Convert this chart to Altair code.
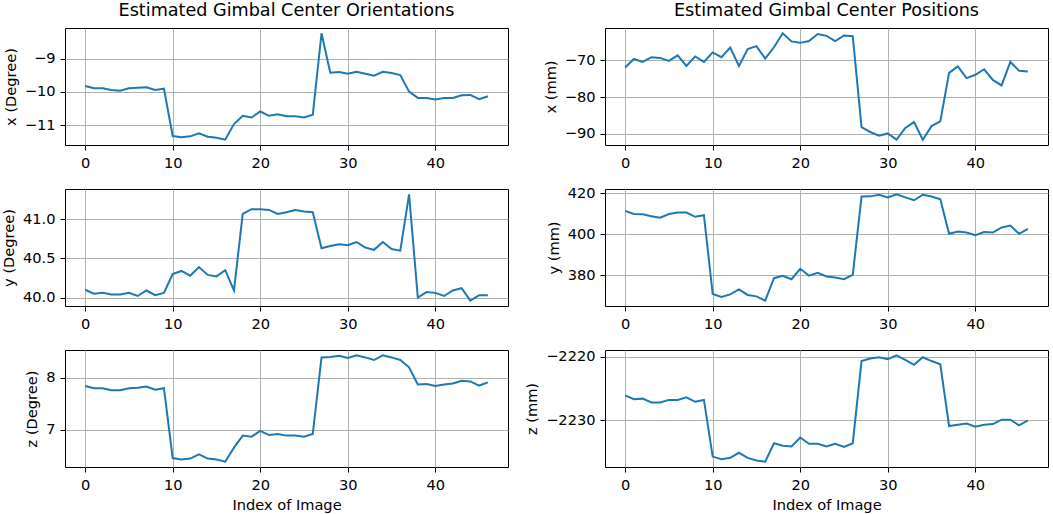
import altair as alt
import pandas as pd

index = list(range(47))

ori_x = [-9.82, -9.89, -9.89, -9.94, -9.96, -9.89, -9.87, -9.86, -9.94, -9.90,
         -11.33, -11.37, -11.34, -11.25, -11.35, -11.38, -11.44, -10.97, -10.72, -10.77,
         -10.59, -10.72, -10.67, -10.73, -10.73, -10.77, -10.69, -8.23, -9.42, -9.40,
         -9.45, -9.39, -9.45, -9.51, -9.39, -9.43, -9.49, -9.99, -10.18, -10.18,
         -10.23, -10.18, -10.18, -10.10, -10.09, -10.22, -10.13]
ori_y = [40.10, 40.05, 40.06, 40.04, 40.04, 40.06, 40.02, 40.09, 40.03, 40.06,
         40.30, 40.34, 40.28, 40.39, 40.29, 40.27, 40.35, 40.09, 41.07, 41.13,
         41.13, 41.12, 41.07, 41.09, 41.12, 41.10, 41.09, 40.63, 40.66, 40.68,
         40.67, 40.71, 40.64, 40.61, 40.71, 40.62, 40.60, 41.32, 40.00, 40.07,
         40.06, 40.02, 40.09, 40.12, 39.96, 40.03, 40.03]
ori_z = [7.84, 7.80, 7.80, 7.76, 7.76, 7.80, 7.81, 7.83, 7.77, 7.80,
         6.46, 6.43, 6.45, 6.53, 6.45, 6.43, 6.39, 6.66, 6.89, 6.87,
         6.98, 6.90, 6.92, 6.89, 6.89, 6.87, 6.92, 8.39, 8.40, 8.42,
         8.38, 8.43, 8.39, 8.34, 8.43, 8.39, 8.34, 8.20, 7.87, 7.88,
         7.84, 7.87, 7.89, 7.94, 7.93, 7.85, 7.91]
pos_x = [-71.9, -69.6, -70.4, -69.1, -69.3, -70.1, -68.6, -71.5, -68.9, -70.4,
         -67.8, -69.1, -66.5, -71.5, -66.9, -66.1, -69.5, -66.4, -62.6, -64.8,
         -65.2, -64.7, -62.8, -63.3, -64.7, -63.2, -63.4, -88.2, -89.5, -90.5,
         -89.9, -91.6, -88.4, -86.8, -91.6, -87.9, -86.6, -73.4, -71.6, -74.8,
         -73.9, -72.4, -75.3, -76.8, -70.4, -72.8, -73.0]
pos_y = [411.4, 409.9, 409.7, 408.8, 408.1, 409.9, 410.6, 410.6, 408.5, 409.3,
         370.8, 369.3, 370.6, 373.0, 370.3, 369.6, 367.5, 378.5, 379.7, 378.0,
         383.1, 379.7, 381.1, 379.3, 378.8, 378.0, 380.1, 418.4, 418.5, 419.3,
         418.0, 419.5, 418.0, 416.6, 419.3, 418.4, 417.1, 400.2, 401.3, 400.8,
         399.5, 401.1, 400.8, 403.3, 404.2, 400.2, 402.6]
pos_z = [-2226.1, -2226.7, -2226.6, -2227.2, -2227.2, -2226.8, -2226.8, -2226.4, -2227.1, -2226.8,
         -2235.7, -2236.1, -2235.9, -2235.1, -2235.9, -2236.3, -2236.5, -2233.6, -2234.0, -2234.1,
         -2232.7, -2233.7, -2233.7, -2234.1, -2233.7, -2234.2, -2233.6, -2220.7, -2220.3, -2220.1,
         -2220.4, -2219.8, -2220.5, -2221.3, -2220.1, -2220.7, -2221.2, -2230.9, -2230.7, -2230.5,
         -2231.0, -2230.7, -2230.6, -2229.9, -2229.9, -2230.8, -2230.0]

x_ticks = [0, 10, 20, 30, 40]
ticks_ori_x = [-11, -10, -9]
ticks_ori_y = [40.0, 40.5, 41.0]
ticks_ori_z = [7, 8]
ticks_pos_x = [-90, -80, -70]
ticks_pos_y = [380, 400, 420]
ticks_pos_z = [-2230, -2220]

FONT = "DejaVu Sans"
W, H = 443, 117
LABEL_SIZE = 14.6
TITLE_SIZE = 17.6


def padded(vals):
    lo, hi = min(vals), max(vals)
    m = (hi - lo) * 0.05
    return [lo - m, hi + m]


def panel(values, ylabel, yticks, yfmt, title=None, bottom=False):
    df = pd.DataFrame({"i": index, "v": values})
    xlo, xhi = padded(index)
    x_axis = alt.Axis(values=x_ticks, format="d")
    if bottom:
        xenc = alt.X("i:Q", scale=alt.Scale(domain=[xlo, xhi], nice=False, zero=False),
                     axis=x_axis, title="Index of Image")
    else:
        xenc = alt.X("i:Q", scale=alt.Scale(domain=[xlo, xhi], nice=False, zero=False),
                     axis=x_axis, title=None)
    yenc = alt.Y("v:Q", scale=alt.Scale(domain=padded(values), nice=False, zero=False),
                 axis=alt.Axis(values=yticks, format=yfmt), title=ylabel)
    ch = alt.Chart(df).mark_line(color="#1f77b4", strokeWidth=2).encode(x=xenc, y=yenc)
    if title:
        ch = ch.properties(width=W, height=H,
                           title=alt.TitleParams(text=title, fontSize=TITLE_SIZE, font=FONT,
                                                 fontWeight="normal", color="black",
                                                 anchor="middle", offset=8))
    else:
        ch = ch.properties(width=W, height=H)
    return ch


c1 = panel(ori_x, "x (Degree)", ticks_ori_x, "d", title="Estimated Gimbal Center Orientations")
c2 = panel(ori_y, "y (Degree)", ticks_ori_y, ".1f")
c3 = panel(ori_z, "z (Degree)", ticks_ori_z, "d", bottom=True)
c4 = panel(pos_x, "x (mm)", ticks_pos_x, "d", title="Estimated Gimbal Center Positions")
c5 = panel(pos_y, "y (mm)", ticks_pos_y, "d")
c6 = panel(pos_z, "z (mm)", ticks_pos_z, "d", bottom=True)

chart = alt.concat(c1, c4, c2, c5, c3, c6, columns=2,
                   spacing={"row": 44, "column": 97}, bounds="flush").properties(
    padding={"left": 1, "top": 1, "right": 0, "bottom": 0},
    background="white",
).configure_view(
    stroke="black", strokeWidth=1
).configure_axis(
    domain=False,
    grid=True, gridColor="#b0b0b0", gridWidth=1,
    tickColor="black", tickSize=5, tickWidth=1,
    labelFont=FONT, labelFontSize=LABEL_SIZE, labelColor="black", labelPadding=5,
    titleFont=FONT, titleFontSize=LABEL_SIZE, titleFontWeight="normal", titleColor="black",
    titlePadding=6,
)

chart.save("out.html", embed_options={"renderer": "svg", "actions": False})
